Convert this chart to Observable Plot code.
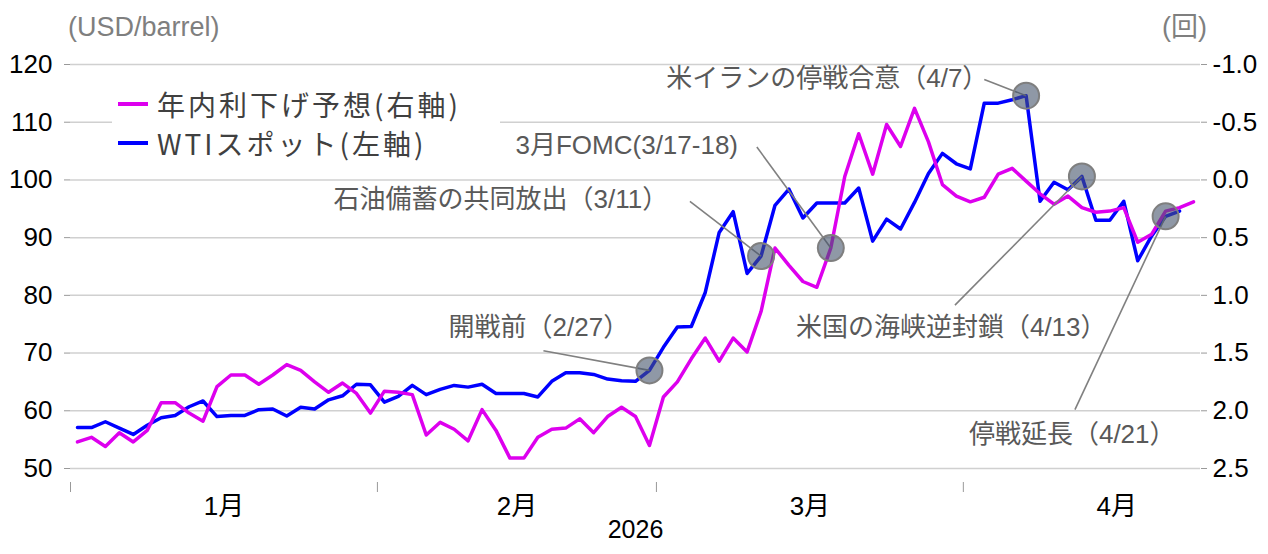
<!DOCTYPE html>
<html><head><meta charset="utf-8">
<script src="https://cdn.jsdelivr.net/npm/d3@7"></script>
<script src="https://cdn.jsdelivr.net/npm/@observablehq/plot@0.6"></script>
<style>
body{margin:0;background:#fff;}
#wrap{position:relative;width:1268px;height:554px;font-family:"Liberation Sans",Arial,"Noto Sans CJK JP",sans-serif;}
.unit{position:absolute;top:12px;font-size:27px;line-height:30px;color:#7f7f7f;white-space:nowrap;}
#legend{position:absolute;left:112px;top:86px;width:388px;height:76px;background:#fff;}
.row{position:absolute;left:6px;height:30px;display:flex;align-items:center;font-family:"Noto Sans CJK JP",sans-serif;font-size:28px;color:#404040;letter-spacing:3px;white-space:nowrap;}
.sw{width:30px;height:3.5px;margin-right:9px;}
</style></head><body>
<div id="wrap"></div>
<script>
// ---- data ----
const firstDay = "2026-01-01";
const wti = [57.1,57.1,58.1,57.0,55.9,57.5,58.8,59.2,60.7,61.7,
  59.0,59.2,59.2,60.2,60.3,59.1,60.6,60.3,61.9,62.6,
  64.6,64.5,61.5,62.5,64.4,62.8,63.7,64.4,64.1,64.6,
  63.0,63.0,63.0,62.4,65.1,66.6,66.6,66.3,65.5,65.2,
  65.1,67.0,71.0,74.5,74.6,80.5,90.9,94.5,83.8,86.8,
  95.6,98.4,93.4,96.0,96.0,96.0,98.6,89.4,93.2,91.5,
  96.1,101.1,104.6,102.8,101.9,113.3,113.3,113.9,114.6,96.3,
  99.6,98.3,100.6,93.0,93.0,96.3,86.0,90.3,93.7,94.6];
const cutExp = [2.27,2.23,2.31,2.19,2.27,2.17,1.93,1.93,2.02,2.09,
  1.79,1.69,1.69,1.77,1.69,1.60,1.65,1.75,1.84,1.76,
  1.85,2.02,1.83,1.84,1.86,2.21,2.10,2.16,2.26,1.99,
  2.17,2.41,2.41,2.23,2.16,2.15,2.07,2.19,2.05,1.97,
  2.05,2.30,1.88,1.75,1.55,1.37,1.57,1.37,1.49,1.14,
  0.59,0.74,0.88,0.93,0.59,-0.03,-0.40,-0.05,-0.48,-0.29,
  -0.62,-0.33,0.04,0.14,0.19,0.15,-0.05,-0.10,0.01,0.12,
  0.21,0.14,0.24,0.28,0.27,0.24,0.54,0.47,0.27,0.24,0.19];
const seriesNames = ["年内利下げ予想(右軸)", "WTIスポット(左軸)"];
const seriesColors = ["#dd00ee", "#0000ff"];
const leftTicks = [50,60,70,80,90,100,110,120];
const rightTicks = [2.5,2.0,1.5,1.0,0.5,0.0,-0.5,-1.0];
const monthLabels = ["1月","2月","3月","4月"];
const yearLabel = "2026";
const leftUnit = "(USD/barrel)";
const rightUnit = "(回)";
const events = [
  {label:"開戦前（2/27）", date:"2026-02-27", series:"wti"},
  {label:"石油備蓄の共同放出（3/11）", date:"2026-03-11", series:"wti"},
  {label:"3月FOMC(3/17-18)", date:"2026-03-18", series:"cut"},
  {label:"米イランの停戦合意（4/7）", date:"2026-04-07", series:"wti"},
  {label:"米国の海峡逆封鎖（4/13）", date:"2026-04-13", series:"wti"},
  {label:"停戦延長（4/21）", date:"2026-04-21", series:"wti"}
];
// annotation layout (label anchor and leader start, in data units: trading-day index, USD)
const labelPos = [
  {tx:26.6, ty:74.4, lx:33.4, ly:70.4},
  {tx:18.35, ty:96.5, lx:43.9, ly:96.3},
  {tx:31.4, ty:106.0, lx:48.7, ly:105.7},
  {tx:42.2, ty:117.6, lx:65.0, ly:117.4},
  {tx:51.5, ty:74.4, lx:62.9, ly:78.3},
  {tx:63.9, ty:55.9, lx:71.5, ly:60.2}
];

// ---- derived ----
const parse = d3.utcParse("%Y-%m-%d");
const fmt = d3.utcFormat("%Y-%m-%d");
const calendar = d3.utcDay.range(parse(firstDay), parse("2026-05-01"))
  .filter(d => d.getUTCDay() !== 0 && d.getUTCDay() !== 6);
const idxOf = new Map(calendar.map((d, i) => [fmt(d), i]));
// right axis (回) -> left axis (USD) alignment: -1.0 <-> 120, 2.5 <-> 50
const r2l = d3.scaleLinear().domain([rightTicks[rightTicks.length-1], rightTicks[0]]).range([leftTicks[leftTicks.length-1], leftTicks[0]]);
const rightFmt = v => { const r = Math.round(r2l.invert(v) * 10) / 10; return (Object.is(r, -0) ? 0 : r).toFixed(1); };

const wtiData = wti.map((v, i) => ({i, v}));
const cutData = cutExp.map((r, i) => ({i, v: r2l(r)}));
const nCat = cutExp.length;

const months = d3.groups(calendar.map((d, i) => ({m: d.getUTCMonth(), i})), d => d.m).slice(0, monthLabels.length);
const boundaries = months.map(([, arr]) => arr[0].i - 0.5);
const monthCenters = months.map(([, arr], k) => ({i: d3.mean(arr, d => d.i), label: monthLabels[k]}));

const ev = events.map((e, k) => {
  const i = idxOf.get(e.date);
  const v = e.series === "wti" ? wti[i] : r2l(cutExp[i]);
  return {...e, i, v, ...labelPos[k]};
});

const font = '"Liberation Sans", Arial, "Noto Sans CJK JP", sans-serif';

const chart = Plot.plot({
  width: 1268, height: 554,
  marginTop: 64, marginBottom: 86, marginLeft: 70, marginRight: 68,
  x: {type: "linear", domain: [-0.5, nCat - 0.5], axis: null},
  y: {domain: [leftTicks[0], leftTicks[leftTicks.length-1]], axis: null},
  style: {fontFamily: font, fontSize: "26px", background: "#fff", color: "#000"},
  marks: [
    Plot.gridY(leftTicks, {stroke: "#d0d0d0", strokeOpacity: 1, strokeWidth: 1.5}),
    Plot.axisY(leftTicks, {anchor: "left", tickSize: 6, tickPadding: 12, stroke: "#999", fill: "#000", label: null, fontSize: 26}),
    Plot.axisY(leftTicks, {anchor: "right", tickSize: 6, tickPadding: 6, stroke: "#999", fill: "#000", label: null, fontSize: 26,
      tickFormat: rightFmt}),
    Plot.axisX(boundaries, {anchor: "bottom", tickSize: 10, dy: 14, tickFormat: () => "", stroke: "#999", label: null}),
    Plot.text(monthCenters, {x: "i", text: "label", frameAnchor: "bottom", dy: 46, fill: "#000", fontSize: 26}),
    Plot.text([yearLabel], {text: d => d, frameAnchor: "bottom", dy: 69, fill: "#000", fontSize: 25}),
    Plot.line(wtiData, {x: "i", y: "v", stroke: seriesColors[1], strokeWidth: 3.5}),
    Plot.line(cutData, {x: "i", y: "v", stroke: seriesColors[0], strokeWidth: 3.5}),
    Plot.link(ev, {x1: "lx", y1: "ly", x2: "i", y2: "v", stroke: "#808080", strokeWidth: 1.6}),
    Plot.dot(ev, {x: "i", y: "v", r: 13, fill: "#44546a", fillOpacity: 0.6, stroke: "#7f7f7f", strokeWidth: 2}),
    Plot.text(ev, {x: "tx", y: "ty", text: "label", textAnchor: "start", fill: "#595959", fontSize: 26, letterSpacing: 1})
  ]
});

const wrap = document.getElementById("wrap");
wrap.appendChild(chart);
const u1 = document.createElement("div"); u1.className = "unit"; u1.style.left = "68px"; u1.textContent = leftUnit; wrap.appendChild(u1);
const u2 = document.createElement("div"); u2.className = "unit"; u2.style.left = "1162px"; u2.textContent = rightUnit; wrap.appendChild(u2);
const lg = document.createElement("div"); lg.id = "legend"; wrap.appendChild(lg);
seriesNames.forEach((name, k) => {
  const row = document.createElement("div"); row.className = "row"; row.style.top = (3 + k * 39) + "px";
  const sw = document.createElement("span"); sw.className = "sw"; sw.style.background = seriesColors[k];
  const tx = document.createElement("span"); tx.textContent = name;
  row.appendChild(sw); row.appendChild(tx); lg.appendChild(row);
});
</script>
</body></html>
